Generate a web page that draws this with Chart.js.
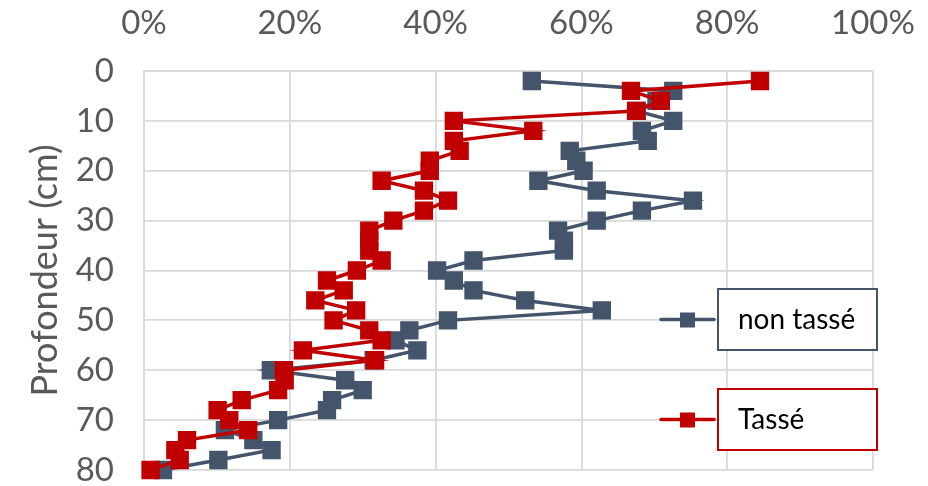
<!DOCTYPE html>
<html>
<head>
<meta charset="utf-8">
<script src="https://cdn.jsdelivr.net/npm/chart.js@4"></script>
<style>
  html, body { margin: 0; padding: 0; background: #fff; }
  #wrap { width: 928px; height: 486px; }
</style>
</head>
<body>
<div id="wrap"><canvas id="myChart" width="928" height="486"></canvas></div>
<script>
// depth (cm)
var depths = [2,4,6,8,10,12,14,16,18,20,22,24,26,28,30,32,34,36,38,40,
              42,44,46,48,50,52,54,56,58,60,62,64,66,68,70,72,74,76,78,80];
// share in %
var nonTasse = [53.2,72.6,70.3,67.6,72.6,68.3,69.1,58.4,59.3,60.3,
                54.1,62.1,75.3,68.3,62.1,56.8,57.6,57.6,45.2,40.2,
                42.5,45.2,52.3,62.8,41.7,36.4,34.5,37.5,31.5,17.4,
                27.6,30.0,25.8,25.1,18.4,11.1,15.0,17.5,10.2,2.6];
var tasse = [84.5,66.8,70.9,67.5,42.5,53.4,42.5,43.3,39.2,39.2,
             32.6,38.4,41.7,38.4,34.2,30.9,30.9,30.9,32.6,29.2,
             25.1,27.4,23.5,29.1,26.0,30.9,32.6,21.8,31.7,19.2,
             19.3,18.4,13.4,10.1,11.7,14.3,5.9,4.3,4.9,0.9];
var xTicks = [0, 20, 40, 60, 80, 100];
var yTicks = [0, 10, 20, 30, 40, 50, 60, 70, 80];

function toPoints(vals) {
    return vals.map(function (v, i) { return { x: v, y: depths[i] }; });
}

var blue = '#44546A';
var red = '#C00000';
var tickFont = { family: 'Lato', size: 33 };

// boxed legend on the right, like the original sheet
var boxLegend = {
    id: 'boxLegend',
    afterDraw: function (chart) {
        var ctx = chart.ctx;
        var a = chart.chartArea;
        var boxL = a.right - 155, boxW = 159, boxH = 61;
        var tops = [289, 389];
        chart.data.datasets.forEach(function (ds, i) {
            var top = tops[i];
            var cy = top + boxH / 2;
            ctx.save();
            ctx.fillStyle = '#fff';
            ctx.fillRect(boxL, top, boxW, boxH);
            ctx.strokeStyle = ds.borderColor;
            ctx.lineWidth = 2;
            ctx.strokeRect(boxL, top, boxW, boxH);
            ctx.beginPath();
            ctx.moveTo(boxL - 57, cy);
            ctx.lineTo(boxL - 4, cy);
            ctx.lineWidth = 3.5;
            ctx.lineCap = 'round';
            ctx.stroke();
            ctx.fillStyle = ds.borderColor;
            ctx.fillRect(boxL - 38, cy - 7, 15, 15);
            ctx.fillStyle = '#000';
            ctx.font = '28px Lato';
            ctx.textBaseline = 'middle';
            ctx.textAlign = 'left';
            ctx.fillText(ds.label, boxL + 20, cy);
            ctx.restore();
        });
    }
};

var ctx = document.getElementById('myChart').getContext('2d');
var myChart = new Chart(ctx, {
    type: 'scatter',
    data: {
        datasets: [{
            label: 'non tassé',
            data: toPoints(nonTasse),
            showLine: true,
            borderColor: blue,
            backgroundColor: blue,
            borderWidth: 3.5,
            pointStyle: 'rect',
            pointRadius: 10.5,
            pointHoverRadius: 10.5,
            clip: false,
            order: 2
        },
        {
            label: 'Tassé',
            data: toPoints(tasse),
            showLine: true,
            borderColor: red,
            backgroundColor: red,
            borderWidth: 3.5,
            pointStyle: 'rect',
            pointRadius: 10.5,
            pointHoverRadius: 10.5,
            clip: false,
            order: 1
        }]
    },
    options: {
        responsive: false,
        animation: false,
        layout: { padding: { left: 0, top: 0, right: 55, bottom: 16 } },
        plugins: {
            legend: { display: false },
            tooltip: { enabled: false }
        },
        scales: {
            x: {
                type: 'linear',
                position: 'top',
                min: 0,
                max: 100,
                afterFit: function (s) {
                    s.height = 71;
                    s.paddingLeft = 0;
                    s.paddingRight = 0;
                },
                afterBuildTicks: function (s) {
                    s.ticks = xTicks.map(function (v) { return { value: v }; });
                },
                ticks: {
                    color: '#595959',
                    font: tickFont,
                    padding: 28,
                    callback: function (v) { return v + '%'; }
                },
                grid: { color: '#D9D9D9', lineWidth: 1.8, drawTicks: false },
                border: { color: '#D9D9D9', width: 1.8 }
            },
            y: {
                type: 'linear',
                reverse: true,
                min: 0,
                max: 80,
                afterFit: function (s) {
                    s.width = 144;
                    s.paddingTop = 0;
                    s.paddingBottom = 0;
                },
                afterBuildTicks: function (s) {
                    s.ticks = yTicks.map(function (v) { return { value: v }; });
                },
                ticks: {
                    color: '#595959',
                    font: tickFont,
                    padding: 30
                },
                title: {
                    display: true,
                    text: 'Profondeur (cm)',
                    color: '#595959',
                    font: { family: 'Lato', size: 36 },
                    padding: 24
                },
                grid: { color: '#D9D9D9', lineWidth: 1.8, drawTicks: false },
                border: { color: '#D9D9D9', width: 1.8 }
            }
        }
    },
    plugins: [boxLegend]
});
</script>
</body>
</html>
